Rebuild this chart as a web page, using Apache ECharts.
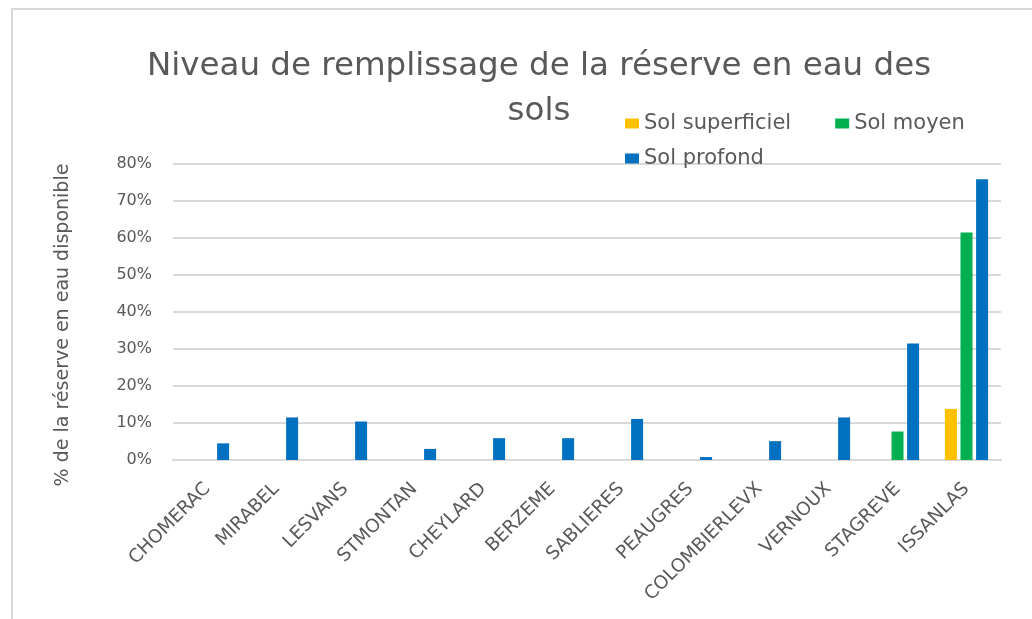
<!DOCTYPE html>
<html>
<head>
<meta charset="utf-8">
<title>Niveau de remplissage</title>
<script src="https://cdn.jsdelivr.net/npm/echarts@6/dist/echarts.min.js"></script>
<style>
    html, body {margin: 0; padding: 0; background: #fff;}
    #echartdiv {width: 1032px; height: 619px;}
</style>
</head>
<body>
<div id="echartdiv"></div>
<script>
// stations (axe x)
var stations = ["CHOMERAC", "MIRABEL", "LESVANS", "STMONTAN", "CHEYLARD", "BERZEME",
    "SABLIERES", "PEAUGRES", "COLOMBIERLEVX", "VERNOUX", "STAGREVE", "ISSANLAS"];

// % de la réserve
var solSuperficiel = [null, null, null, null, null, null, null, null, null, null, null, 13.8];
var solMoyen = [null, null, null, null, null, null, null, null, null, null, 7.7, 61.5];
var solProfond = [4.5, 11.5, 10.4, 3.0, 5.9, 5.9, 11.1, 0.8, 5.1, 11.5, 31.5, 75.9];

var yTicks = [0, 10, 20, 30, 40, 50, 60, 70, 80];

var txtColor = '#595959';
var fontName = 'DejaVu Sans';

function show_bar() {
    var dom = document.getElementById("echartdiv");
    var myChart = echarts.init(dom);

    var option = {
        animation: false,
        textStyle: {fontFamily: fontName},
        title: {
            text: 'Niveau de remplissage de la réserve en eau des\nsols',
            left: 534,
            textAlign: 'center',
            top: 39,
            textStyle: {color: txtColor, fontSize: 32.5, fontWeight: 'normal', lineHeight: 45, fontFamily: fontName}
        },
        legend: [
            {
                data: ['Sol superficiel', 'Sol moyen'],
                left: 625, top: 113, padding: 0,
                icon: 'rect',
                itemWidth: 14, itemHeight: 10, itemGap: 44,
                textStyle: {color: txtColor, fontSize: 21}
            },
            {
                data: ['Sol profond'],
                left: 625, top: 148, padding: 0,
                icon: 'rect',
                itemWidth: 14, itemHeight: 10,
                textStyle: {color: txtColor, fontSize: 21}
            }
        ],
        grid: {
            left: 173,
            right: 31,
            top: 164,
            bottom: 159
        },
        graphic: [{
            type: 'rect',
            shape: {x: 12, y: 9, width: 1030, height: 615},
            style: {fill: 'none', stroke: '#d9d9d9', lineWidth: 2},
            silent: true
        }],
        xAxis: {
            type: 'category',
            data: stations,
            axisTick: {show: false},
            axisLine: {lineStyle: {color: '#d9d9d9', width: 2}},
            axisLabel: {rotate: 45, color: txtColor, fontSize: 18.5, margin: 26, interval: 0}
        },
        yAxis: {
            type: 'value',
            min: yTicks[0],
            max: yTicks[yTicks.length - 1],
            interval: 10,
            name: '% de la réserve en eau disponible',
            nameLocation: 'middle',
            nameGap: 100,
            nameTextStyle: {color: txtColor, fontSize: 19, padding: [0, 26, 0, 0]},
            axisLabel: {color: txtColor, fontSize: 16, margin: 21, formatter: '{value}%'},
            splitLine: {lineStyle: {color: '#d9d9d9', width: 2}}
        },
        series: [
            {name: 'Sol superficiel', type: 'bar', data: solSuperficiel, barWidth: 12, barGap: '30%', itemStyle: {color: '#FFC000'}},
            {name: 'Sol moyen', type: 'bar', data: solMoyen, barWidth: 12, barGap: '30%', itemStyle: {color: '#00B050'}},
            {name: 'Sol profond', type: 'bar', data: solProfond, barWidth: 12, barGap: '30%', itemStyle: {color: '#0070C0'}}
        ]
    };

    myChart.setOption(option);
}

show_bar();
</script>
</body>
</html>
